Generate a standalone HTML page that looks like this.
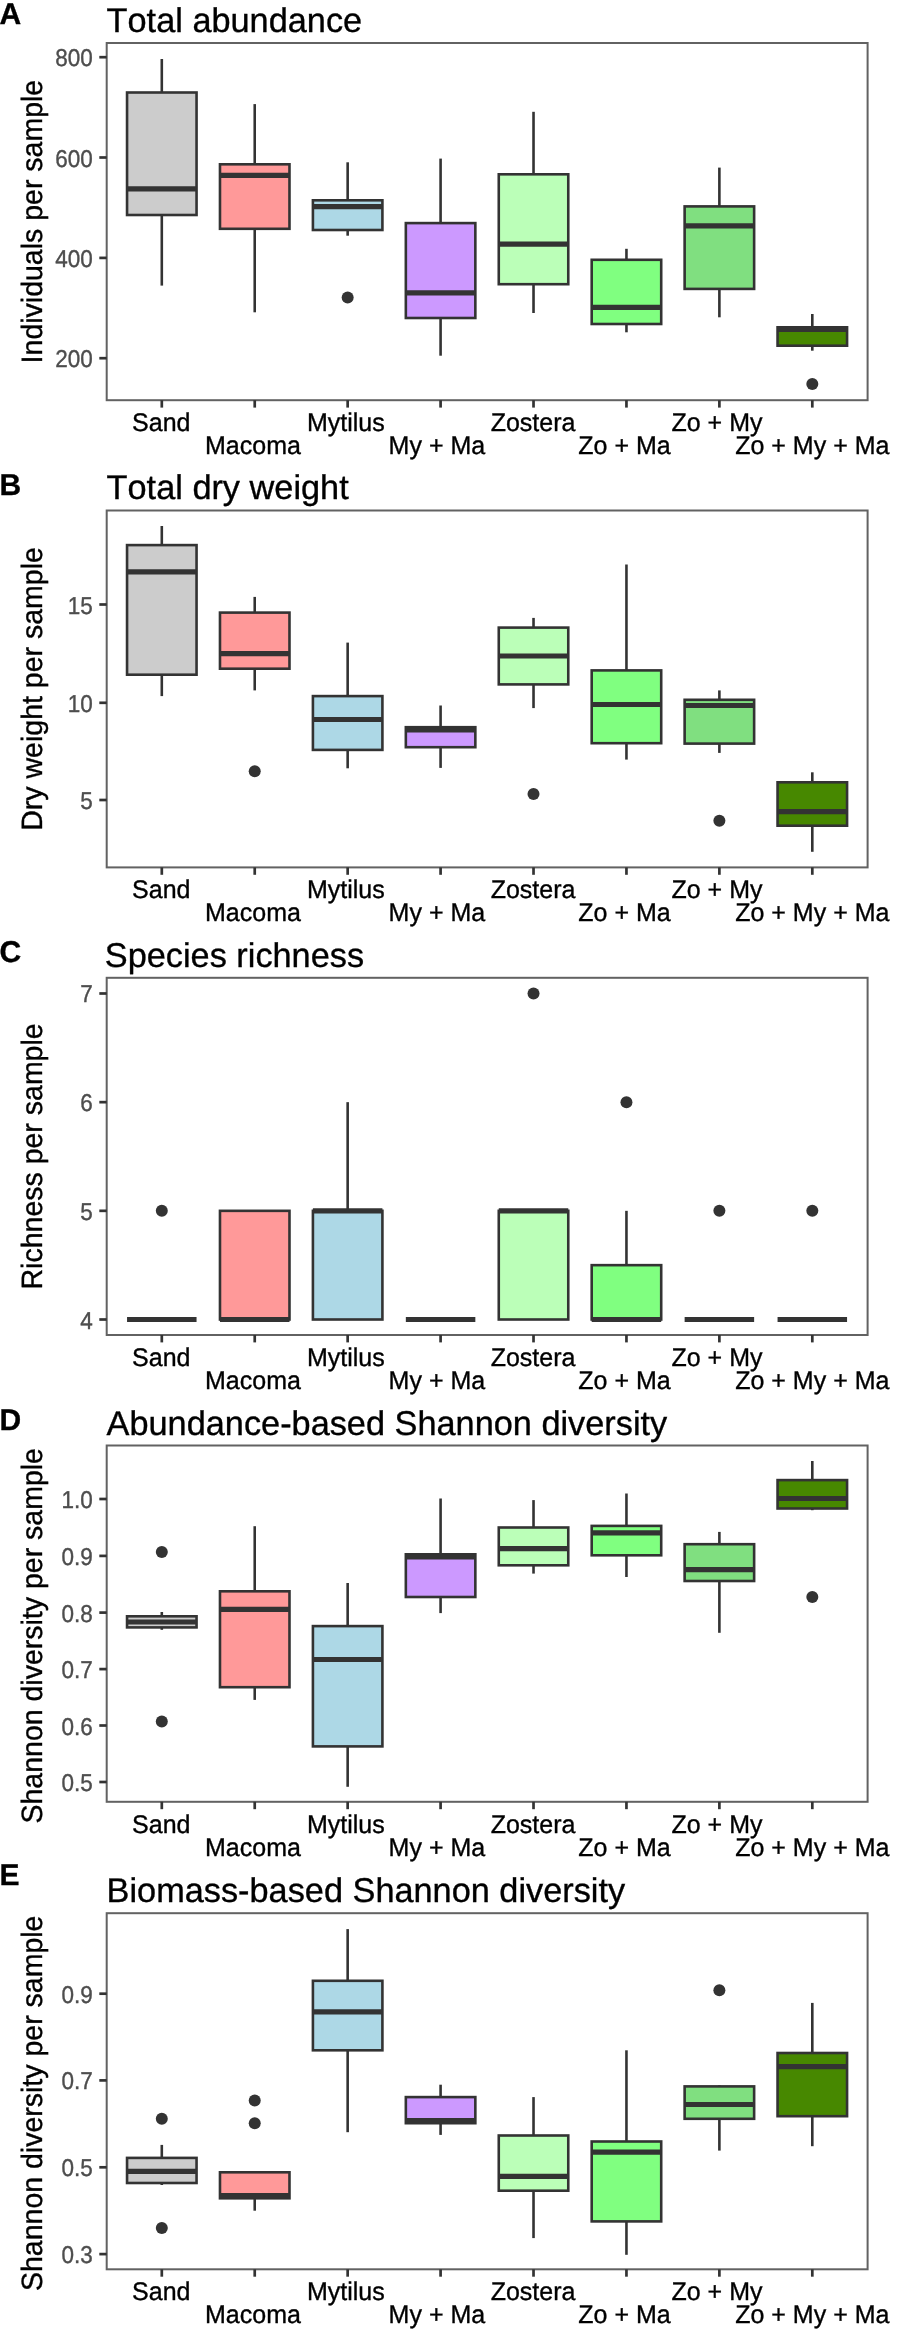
<!DOCTYPE html>
<html><head><meta charset="utf-8"><title>Boxplots</title>
<style>html,body{margin:0;padding:0;background:#fff;}svg{display:block;will-change:transform;}text{font-kerning:none;font-feature-settings:"kern" 0;text-rendering:geometricPrecision;stroke:#000;stroke-width:0.35px;}.tk{stroke:#4D4D4D;}</style>
</head><body>
<svg width="898" height="2337" viewBox="0 0 898 2337" font-family="Liberation Sans, sans-serif">
<rect width="898" height="2337" fill="#FFFFFF"/>
<text transform="translate(-0.5 24) scale(1 1)" font-size="30" font-weight="bold">A</text>
<text transform="translate(106.6 31.9) scale(1 1)" font-size="34.3">Total abundance</text>
<text transform="translate(41.5 221.6) rotate(-90) scale(1 1.03)" text-anchor="middle" font-size="28.5">Individuals per sample</text>
<line x1="161.8" y1="59" x2="161.8" y2="92.5" stroke="#333333" stroke-width="2.6"/>
<line x1="161.8" y1="215" x2="161.8" y2="285.6" stroke="#333333" stroke-width="2.6"/>
<rect x="127.05" y="92.5" width="69.5" height="122.5" fill="#CCCCCC" stroke="#333333" stroke-width="2.6"/>
<line x1="127.05" y1="188.8" x2="196.55" y2="188.8" stroke="#333333" stroke-width="5.2"/>
<line x1="254.73" y1="104.1" x2="254.73" y2="164.3" stroke="#333333" stroke-width="2.6"/>
<line x1="254.73" y1="228.8" x2="254.73" y2="312.3" stroke="#333333" stroke-width="2.6"/>
<rect x="219.98" y="164.3" width="69.5" height="64.5" fill="#FF9999" stroke="#333333" stroke-width="2.6"/>
<line x1="219.98" y1="175.3" x2="289.48" y2="175.3" stroke="#333333" stroke-width="5.2"/>
<line x1="347.66" y1="162.3" x2="347.66" y2="200.3" stroke="#333333" stroke-width="2.6"/>
<line x1="347.66" y1="230" x2="347.66" y2="235.7" stroke="#333333" stroke-width="2.6"/>
<rect x="312.91" y="200.3" width="69.5" height="29.7" fill="#ADD8E6" stroke="#333333" stroke-width="2.6"/>
<line x1="312.91" y1="206.7" x2="382.41" y2="206.7" stroke="#333333" stroke-width="5.2"/>
<circle cx="347.66" cy="297.5" r="6" fill="#333333"/>
<line x1="440.59" y1="158.6" x2="440.59" y2="223.1" stroke="#333333" stroke-width="2.6"/>
<line x1="440.59" y1="318" x2="440.59" y2="355.7" stroke="#333333" stroke-width="2.6"/>
<rect x="405.84" y="223.1" width="69.5" height="94.9" fill="#CC99FF" stroke="#333333" stroke-width="2.6"/>
<line x1="405.84" y1="292.9" x2="475.34" y2="292.9" stroke="#333333" stroke-width="5.2"/>
<line x1="533.52" y1="111.8" x2="533.52" y2="174.3" stroke="#333333" stroke-width="2.6"/>
<line x1="533.52" y1="284.2" x2="533.52" y2="313" stroke="#333333" stroke-width="2.6"/>
<rect x="498.77" y="174.3" width="69.5" height="109.9" fill="#BBFFB8" stroke="#333333" stroke-width="2.6"/>
<line x1="498.77" y1="244.1" x2="568.27" y2="244.1" stroke="#333333" stroke-width="5.2"/>
<line x1="626.45" y1="248.8" x2="626.45" y2="259.8" stroke="#333333" stroke-width="2.6"/>
<line x1="626.45" y1="324" x2="626.45" y2="332.3" stroke="#333333" stroke-width="2.6"/>
<rect x="591.7" y="259.8" width="69.5" height="64.2" fill="#80FF80" stroke="#333333" stroke-width="2.6"/>
<line x1="591.7" y1="307.3" x2="661.2" y2="307.3" stroke="#333333" stroke-width="5.2"/>
<line x1="719.38" y1="167.6" x2="719.38" y2="206.4" stroke="#333333" stroke-width="2.6"/>
<line x1="719.38" y1="288.9" x2="719.38" y2="317.3" stroke="#333333" stroke-width="2.6"/>
<rect x="684.63" y="206.4" width="69.5" height="82.5" fill="#80DF80" stroke="#333333" stroke-width="2.6"/>
<line x1="684.63" y1="225.8" x2="754.13" y2="225.8" stroke="#333333" stroke-width="5.2"/>
<line x1="812.31" y1="314" x2="812.31" y2="327.3" stroke="#333333" stroke-width="2.6"/>
<line x1="812.31" y1="345.7" x2="812.31" y2="350.7" stroke="#333333" stroke-width="2.6"/>
<rect x="777.56" y="327.3" width="69.5" height="18.4" fill="#478800" stroke="#333333" stroke-width="2.6"/>
<line x1="777.56" y1="329.3" x2="847.06" y2="329.3" stroke="#333333" stroke-width="5.2"/>
<circle cx="812.31" cy="384.1" r="6" fill="#333333"/>
<rect x="106.7" y="43" width="760.9" height="357.2" fill="none" stroke="#626262" stroke-width="2"/>
<line x1="99.3" y1="57.2" x2="106.7" y2="57.2" stroke="#333333" stroke-width="2.7"/>
<text transform="translate(92.7 66.2) scale(1 1.08)" font-size="22.5" fill="#4D4D4D" class="tk" text-anchor="end">800</text>
<line x1="99.3" y1="157.5" x2="106.7" y2="157.5" stroke="#333333" stroke-width="2.7"/>
<text transform="translate(92.7 166.5) scale(1 1.08)" font-size="22.5" fill="#4D4D4D" class="tk" text-anchor="end">600</text>
<line x1="99.3" y1="257.9" x2="106.7" y2="257.9" stroke="#333333" stroke-width="2.7"/>
<text transform="translate(92.7 266.9) scale(1 1.08)" font-size="22.5" fill="#4D4D4D" class="tk" text-anchor="end">400</text>
<line x1="99.3" y1="358.2" x2="106.7" y2="358.2" stroke="#333333" stroke-width="2.7"/>
<text transform="translate(92.7 367.2) scale(1 1.08)" font-size="22.5" fill="#4D4D4D" class="tk" text-anchor="end">200</text>
<line x1="161.8" y1="400.2" x2="161.8" y2="407.6" stroke="#333333" stroke-width="2.7"/>
<text transform="translate(161.3 431.1) scale(1 1.02)" font-size="25" text-anchor="middle">Sand</text>
<line x1="254.73" y1="400.2" x2="254.73" y2="407.6" stroke="#333333" stroke-width="2.7"/>
<text transform="translate(252.93 454) scale(1 1.02)" font-size="25" text-anchor="middle">Macoma</text>
<line x1="347.66" y1="400.2" x2="347.66" y2="407.6" stroke="#333333" stroke-width="2.7"/>
<text transform="translate(345.86 431.1) scale(1 1.02)" font-size="25" text-anchor="middle">Mytilus</text>
<line x1="440.59" y1="400.2" x2="440.59" y2="407.6" stroke="#333333" stroke-width="2.7"/>
<text transform="translate(436.89 454) scale(1 1.02)" font-size="25" text-anchor="middle">My + Ma</text>
<line x1="533.52" y1="400.2" x2="533.52" y2="407.6" stroke="#333333" stroke-width="2.7"/>
<text transform="translate(533.02 431.1) scale(1 1.02)" font-size="25" text-anchor="middle">Zostera</text>
<line x1="626.45" y1="400.2" x2="626.45" y2="407.6" stroke="#333333" stroke-width="2.7"/>
<text transform="translate(624.55 454) scale(1 1.02)" font-size="25" text-anchor="middle">Zo + Ma</text>
<line x1="719.38" y1="400.2" x2="719.38" y2="407.6" stroke="#333333" stroke-width="2.7"/>
<text transform="translate(716.98 431.1) scale(1 1.02)" font-size="25" text-anchor="middle">Zo + My</text>
<line x1="812.31" y1="400.2" x2="812.31" y2="407.6" stroke="#333333" stroke-width="2.7"/>
<text transform="translate(812.31 454) scale(1 1.02)" font-size="25" text-anchor="middle">Zo + My + Ma</text>
<text transform="translate(-0.5 494.7) scale(1 1)" font-size="30" font-weight="bold">B</text>
<text transform="translate(106.6 499.2) scale(1 1)" font-size="34.3">Total dry weight</text>
<text transform="translate(41.5 688.95) rotate(-90) scale(1 1.03)" text-anchor="middle" font-size="28.5">Dry weight per sample</text>
<line x1="161.8" y1="526" x2="161.8" y2="545.1" stroke="#333333" stroke-width="2.6"/>
<line x1="161.8" y1="674.7" x2="161.8" y2="696.1" stroke="#333333" stroke-width="2.6"/>
<rect x="127.05" y="545.1" width="69.5" height="129.6" fill="#CCCCCC" stroke="#333333" stroke-width="2.6"/>
<line x1="127.05" y1="571.8" x2="196.55" y2="571.8" stroke="#333333" stroke-width="5.2"/>
<line x1="254.73" y1="596.9" x2="254.73" y2="612.6" stroke="#333333" stroke-width="2.6"/>
<line x1="254.73" y1="668.7" x2="254.73" y2="690.4" stroke="#333333" stroke-width="2.6"/>
<rect x="219.98" y="612.6" width="69.5" height="56.1" fill="#FF9999" stroke="#333333" stroke-width="2.6"/>
<line x1="219.98" y1="653.7" x2="289.48" y2="653.7" stroke="#333333" stroke-width="5.2"/>
<circle cx="254.73" cy="771.3" r="6" fill="#333333"/>
<line x1="347.66" y1="642.6" x2="347.66" y2="696.1" stroke="#333333" stroke-width="2.6"/>
<line x1="347.66" y1="749.9" x2="347.66" y2="768.3" stroke="#333333" stroke-width="2.6"/>
<rect x="312.91" y="696.1" width="69.5" height="53.8" fill="#ADD8E6" stroke="#333333" stroke-width="2.6"/>
<line x1="312.91" y1="719.5" x2="382.41" y2="719.5" stroke="#333333" stroke-width="5.2"/>
<line x1="440.59" y1="705.5" x2="440.59" y2="727.2" stroke="#333333" stroke-width="2.6"/>
<line x1="440.59" y1="747.2" x2="440.59" y2="767.9" stroke="#333333" stroke-width="2.6"/>
<rect x="405.84" y="727.2" width="69.5" height="20" fill="#CC99FF" stroke="#333333" stroke-width="2.6"/>
<line x1="405.84" y1="729.9" x2="475.34" y2="729.9" stroke="#333333" stroke-width="5.2"/>
<line x1="533.52" y1="617.9" x2="533.52" y2="627.6" stroke="#333333" stroke-width="2.6"/>
<line x1="533.52" y1="684.4" x2="533.52" y2="708.1" stroke="#333333" stroke-width="2.6"/>
<rect x="498.77" y="627.6" width="69.5" height="56.8" fill="#BBFFB8" stroke="#333333" stroke-width="2.6"/>
<line x1="498.77" y1="656" x2="568.27" y2="656" stroke="#333333" stroke-width="5.2"/>
<circle cx="533.52" cy="794" r="6" fill="#333333"/>
<line x1="626.45" y1="564.5" x2="626.45" y2="670.4" stroke="#333333" stroke-width="2.6"/>
<line x1="626.45" y1="743.2" x2="626.45" y2="759.6" stroke="#333333" stroke-width="2.6"/>
<rect x="591.7" y="670.4" width="69.5" height="72.8" fill="#80FF80" stroke="#333333" stroke-width="2.6"/>
<line x1="591.7" y1="704.5" x2="661.2" y2="704.5" stroke="#333333" stroke-width="5.2"/>
<line x1="719.38" y1="690.4" x2="719.38" y2="699.8" stroke="#333333" stroke-width="2.6"/>
<line x1="719.38" y1="743.6" x2="719.38" y2="752.9" stroke="#333333" stroke-width="2.6"/>
<rect x="684.63" y="699.8" width="69.5" height="43.8" fill="#80DF80" stroke="#333333" stroke-width="2.6"/>
<line x1="684.63" y1="705.5" x2="754.13" y2="705.5" stroke="#333333" stroke-width="5.2"/>
<circle cx="719.38" cy="820.7" r="6" fill="#333333"/>
<line x1="812.31" y1="772.3" x2="812.31" y2="782.3" stroke="#333333" stroke-width="2.6"/>
<line x1="812.31" y1="825.7" x2="812.31" y2="851.8" stroke="#333333" stroke-width="2.6"/>
<rect x="777.56" y="782.3" width="69.5" height="43.4" fill="#478800" stroke="#333333" stroke-width="2.6"/>
<line x1="777.56" y1="811.7" x2="847.06" y2="811.7" stroke="#333333" stroke-width="5.2"/>
<rect x="106.7" y="510.5" width="760.9" height="356.9" fill="none" stroke="#626262" stroke-width="2"/>
<line x1="99.3" y1="604.5" x2="106.7" y2="604.5" stroke="#333333" stroke-width="2.7"/>
<text transform="translate(92.7 613.5) scale(1 1.08)" font-size="22.5" fill="#4D4D4D" class="tk" text-anchor="end">15</text>
<line x1="99.3" y1="702.8" x2="106.7" y2="702.8" stroke="#333333" stroke-width="2.7"/>
<text transform="translate(92.7 711.8) scale(1 1.08)" font-size="22.5" fill="#4D4D4D" class="tk" text-anchor="end">10</text>
<line x1="99.3" y1="800" x2="106.7" y2="800" stroke="#333333" stroke-width="2.7"/>
<text transform="translate(92.7 809) scale(1 1.08)" font-size="22.5" fill="#4D4D4D" class="tk" text-anchor="end">5</text>
<line x1="161.8" y1="867.4" x2="161.8" y2="874.8" stroke="#333333" stroke-width="2.7"/>
<text transform="translate(161.3 898.4) scale(1 1.02)" font-size="25" text-anchor="middle">Sand</text>
<line x1="254.73" y1="867.4" x2="254.73" y2="874.8" stroke="#333333" stroke-width="2.7"/>
<text transform="translate(252.93 921.3) scale(1 1.02)" font-size="25" text-anchor="middle">Macoma</text>
<line x1="347.66" y1="867.4" x2="347.66" y2="874.8" stroke="#333333" stroke-width="2.7"/>
<text transform="translate(345.86 898.4) scale(1 1.02)" font-size="25" text-anchor="middle">Mytilus</text>
<line x1="440.59" y1="867.4" x2="440.59" y2="874.8" stroke="#333333" stroke-width="2.7"/>
<text transform="translate(436.89 921.3) scale(1 1.02)" font-size="25" text-anchor="middle">My + Ma</text>
<line x1="533.52" y1="867.4" x2="533.52" y2="874.8" stroke="#333333" stroke-width="2.7"/>
<text transform="translate(533.02 898.4) scale(1 1.02)" font-size="25" text-anchor="middle">Zostera</text>
<line x1="626.45" y1="867.4" x2="626.45" y2="874.8" stroke="#333333" stroke-width="2.7"/>
<text transform="translate(624.55 921.3) scale(1 1.02)" font-size="25" text-anchor="middle">Zo + Ma</text>
<line x1="719.38" y1="867.4" x2="719.38" y2="874.8" stroke="#333333" stroke-width="2.7"/>
<text transform="translate(716.98 898.4) scale(1 1.02)" font-size="25" text-anchor="middle">Zo + My</text>
<line x1="812.31" y1="867.4" x2="812.31" y2="874.8" stroke="#333333" stroke-width="2.7"/>
<text transform="translate(812.31 921.3) scale(1 1.02)" font-size="25" text-anchor="middle">Zo + My + Ma</text>
<text transform="translate(-0.5 961.8) scale(1 1)" font-size="30" font-weight="bold">C</text>
<text transform="translate(104.8 966.5) scale(1 1)" font-size="34.3">Species richness</text>
<text transform="translate(41.5 1156.4) rotate(-90) scale(1 1.03)" text-anchor="middle" font-size="28.5">Richness per sample</text>
<rect x="127.05" y="1319.5" width="69.5" height="0" fill="#CCCCCC" stroke="#333333" stroke-width="2.6"/>
<line x1="127.05" y1="1319.5" x2="196.55" y2="1319.5" stroke="#333333" stroke-width="5.2"/>
<circle cx="161.8" cy="1210.83" r="6" fill="#333333"/>
<rect x="219.98" y="1210.83" width="69.5" height="108.67" fill="#FF9999" stroke="#333333" stroke-width="2.6"/>
<line x1="219.98" y1="1319.5" x2="289.48" y2="1319.5" stroke="#333333" stroke-width="5.2"/>
<line x1="347.66" y1="1102.16" x2="347.66" y2="1210.83" stroke="#333333" stroke-width="2.6"/>
<rect x="312.91" y="1210.83" width="69.5" height="108.67" fill="#ADD8E6" stroke="#333333" stroke-width="2.6"/>
<line x1="312.91" y1="1210.83" x2="382.41" y2="1210.83" stroke="#333333" stroke-width="5.2"/>
<rect x="405.84" y="1319.5" width="69.5" height="0" fill="#CC99FF" stroke="#333333" stroke-width="2.6"/>
<line x1="405.84" y1="1319.5" x2="475.34" y2="1319.5" stroke="#333333" stroke-width="5.2"/>
<rect x="498.77" y="1210.83" width="69.5" height="108.67" fill="#BBFFB8" stroke="#333333" stroke-width="2.6"/>
<line x1="498.77" y1="1210.83" x2="568.27" y2="1210.83" stroke="#333333" stroke-width="5.2"/>
<circle cx="533.52" cy="993.49" r="6" fill="#333333"/>
<line x1="626.45" y1="1210.83" x2="626.45" y2="1265.16" stroke="#333333" stroke-width="2.6"/>
<rect x="591.7" y="1265.16" width="69.5" height="54.34" fill="#80FF80" stroke="#333333" stroke-width="2.6"/>
<line x1="591.7" y1="1319.5" x2="661.2" y2="1319.5" stroke="#333333" stroke-width="5.2"/>
<circle cx="626.45" cy="1102.16" r="6" fill="#333333"/>
<rect x="684.63" y="1319.5" width="69.5" height="0" fill="#80DF80" stroke="#333333" stroke-width="2.6"/>
<line x1="684.63" y1="1319.5" x2="754.13" y2="1319.5" stroke="#333333" stroke-width="5.2"/>
<circle cx="719.38" cy="1210.83" r="6" fill="#333333"/>
<rect x="777.56" y="1319.5" width="69.5" height="0" fill="#478800" stroke="#333333" stroke-width="2.6"/>
<line x1="777.56" y1="1319.5" x2="847.06" y2="1319.5" stroke="#333333" stroke-width="5.2"/>
<circle cx="812.31" cy="1210.83" r="6" fill="#333333"/>
<rect x="106.7" y="977.8" width="760.9" height="357.2" fill="none" stroke="#626262" stroke-width="2"/>
<line x1="99.3" y1="993.49" x2="106.7" y2="993.49" stroke="#333333" stroke-width="2.7"/>
<text transform="translate(92.7 1002.49) scale(1 1.08)" font-size="22.5" fill="#4D4D4D" class="tk" text-anchor="end">7</text>
<line x1="99.3" y1="1102.16" x2="106.7" y2="1102.16" stroke="#333333" stroke-width="2.7"/>
<text transform="translate(92.7 1111.16) scale(1 1.08)" font-size="22.5" fill="#4D4D4D" class="tk" text-anchor="end">6</text>
<line x1="99.3" y1="1210.83" x2="106.7" y2="1210.83" stroke="#333333" stroke-width="2.7"/>
<text transform="translate(92.7 1219.83) scale(1 1.08)" font-size="22.5" fill="#4D4D4D" class="tk" text-anchor="end">5</text>
<line x1="99.3" y1="1319.5" x2="106.7" y2="1319.5" stroke="#333333" stroke-width="2.7"/>
<text transform="translate(92.7 1328.5) scale(1 1.08)" font-size="22.5" fill="#4D4D4D" class="tk" text-anchor="end">4</text>
<line x1="161.8" y1="1335" x2="161.8" y2="1342.4" stroke="#333333" stroke-width="2.7"/>
<text transform="translate(161.3 1365.7) scale(1 1.02)" font-size="25" text-anchor="middle">Sand</text>
<line x1="254.73" y1="1335" x2="254.73" y2="1342.4" stroke="#333333" stroke-width="2.7"/>
<text transform="translate(252.93 1388.6) scale(1 1.02)" font-size="25" text-anchor="middle">Macoma</text>
<line x1="347.66" y1="1335" x2="347.66" y2="1342.4" stroke="#333333" stroke-width="2.7"/>
<text transform="translate(345.86 1365.7) scale(1 1.02)" font-size="25" text-anchor="middle">Mytilus</text>
<line x1="440.59" y1="1335" x2="440.59" y2="1342.4" stroke="#333333" stroke-width="2.7"/>
<text transform="translate(436.89 1388.6) scale(1 1.02)" font-size="25" text-anchor="middle">My + Ma</text>
<line x1="533.52" y1="1335" x2="533.52" y2="1342.4" stroke="#333333" stroke-width="2.7"/>
<text transform="translate(533.02 1365.7) scale(1 1.02)" font-size="25" text-anchor="middle">Zostera</text>
<line x1="626.45" y1="1335" x2="626.45" y2="1342.4" stroke="#333333" stroke-width="2.7"/>
<text transform="translate(624.55 1388.6) scale(1 1.02)" font-size="25" text-anchor="middle">Zo + Ma</text>
<line x1="719.38" y1="1335" x2="719.38" y2="1342.4" stroke="#333333" stroke-width="2.7"/>
<text transform="translate(716.98 1365.7) scale(1 1.02)" font-size="25" text-anchor="middle">Zo + My</text>
<line x1="812.31" y1="1335" x2="812.31" y2="1342.4" stroke="#333333" stroke-width="2.7"/>
<text transform="translate(812.31 1388.6) scale(1 1.02)" font-size="25" text-anchor="middle">Zo + My + Ma</text>
<text transform="translate(-0.5 1429.5) scale(1 1)" font-size="30" font-weight="bold">D</text>
<text transform="translate(106.6 1434.6) scale(1 1)" font-size="34.3">Abundance-based Shannon diversity</text>
<text transform="translate(41.5 1635.8) rotate(-90) scale(1 1.03)" text-anchor="middle" font-size="28.5">Shannon diversity per sample</text>
<line x1="161.8" y1="1612" x2="161.8" y2="1616.3" stroke="#333333" stroke-width="2.6"/>
<line x1="161.8" y1="1627.4" x2="161.8" y2="1629.8" stroke="#333333" stroke-width="2.6"/>
<rect x="127.05" y="1616.3" width="69.5" height="11.1" fill="#CCCCCC" stroke="#333333" stroke-width="2.6"/>
<line x1="127.05" y1="1622" x2="196.55" y2="1622" stroke="#333333" stroke-width="5.2"/>
<circle cx="161.8" cy="1551.9" r="6" fill="#333333"/>
<circle cx="161.8" cy="1721.6" r="6" fill="#333333"/>
<line x1="254.73" y1="1526.2" x2="254.73" y2="1591.3" stroke="#333333" stroke-width="2.6"/>
<line x1="254.73" y1="1687.2" x2="254.73" y2="1699.9" stroke="#333333" stroke-width="2.6"/>
<rect x="219.98" y="1591.3" width="69.5" height="95.9" fill="#FF9999" stroke="#333333" stroke-width="2.6"/>
<line x1="219.98" y1="1609.4" x2="289.48" y2="1609.4" stroke="#333333" stroke-width="5.2"/>
<line x1="347.66" y1="1583" x2="347.66" y2="1626.1" stroke="#333333" stroke-width="2.6"/>
<line x1="347.66" y1="1746.4" x2="347.66" y2="1786.8" stroke="#333333" stroke-width="2.6"/>
<rect x="312.91" y="1626.1" width="69.5" height="120.3" fill="#ADD8E6" stroke="#333333" stroke-width="2.6"/>
<line x1="312.91" y1="1659.5" x2="382.41" y2="1659.5" stroke="#333333" stroke-width="5.2"/>
<line x1="440.59" y1="1498.5" x2="440.59" y2="1554.3" stroke="#333333" stroke-width="2.6"/>
<line x1="440.59" y1="1597" x2="440.59" y2="1613.1" stroke="#333333" stroke-width="2.6"/>
<rect x="405.84" y="1554.3" width="69.5" height="42.7" fill="#CC99FF" stroke="#333333" stroke-width="2.6"/>
<line x1="405.84" y1="1556.9" x2="475.34" y2="1556.9" stroke="#333333" stroke-width="5.2"/>
<line x1="533.52" y1="1500.1" x2="533.52" y2="1527.5" stroke="#333333" stroke-width="2.6"/>
<line x1="533.52" y1="1565.3" x2="533.52" y2="1573.6" stroke="#333333" stroke-width="2.6"/>
<rect x="498.77" y="1527.5" width="69.5" height="37.8" fill="#BBFFB8" stroke="#333333" stroke-width="2.6"/>
<line x1="498.77" y1="1548.6" x2="568.27" y2="1548.6" stroke="#333333" stroke-width="5.2"/>
<line x1="626.45" y1="1493.5" x2="626.45" y2="1525.9" stroke="#333333" stroke-width="2.6"/>
<line x1="626.45" y1="1555.3" x2="626.45" y2="1577" stroke="#333333" stroke-width="2.6"/>
<rect x="591.7" y="1525.9" width="69.5" height="29.4" fill="#80FF80" stroke="#333333" stroke-width="2.6"/>
<line x1="591.7" y1="1532.9" x2="661.2" y2="1532.9" stroke="#333333" stroke-width="5.2"/>
<line x1="719.38" y1="1531.9" x2="719.38" y2="1544.2" stroke="#333333" stroke-width="2.6"/>
<line x1="719.38" y1="1581" x2="719.38" y2="1632.8" stroke="#333333" stroke-width="2.6"/>
<rect x="684.63" y="1544.2" width="69.5" height="36.8" fill="#80DF80" stroke="#333333" stroke-width="2.6"/>
<line x1="684.63" y1="1569.6" x2="754.13" y2="1569.6" stroke="#333333" stroke-width="5.2"/>
<line x1="812.31" y1="1461" x2="812.31" y2="1480.1" stroke="#333333" stroke-width="2.6"/>
<line x1="812.31" y1="1508.5" x2="812.31" y2="1510.2" stroke="#333333" stroke-width="2.6"/>
<rect x="777.56" y="1480.1" width="69.5" height="28.4" fill="#478800" stroke="#333333" stroke-width="2.6"/>
<line x1="777.56" y1="1498.5" x2="847.06" y2="1498.5" stroke="#333333" stroke-width="5.2"/>
<circle cx="812.31" cy="1597" r="6" fill="#333333"/>
<rect x="106.7" y="1445.5" width="760.9" height="356.3" fill="none" stroke="#626262" stroke-width="2"/>
<line x1="99.3" y1="1499" x2="106.7" y2="1499" stroke="#333333" stroke-width="2.7"/>
<text transform="translate(92.7 1508) scale(1 1.08)" font-size="22.5" fill="#4D4D4D" class="tk" text-anchor="end">1.0</text>
<line x1="99.3" y1="1555.9" x2="106.7" y2="1555.9" stroke="#333333" stroke-width="2.7"/>
<text transform="translate(92.7 1564.9) scale(1 1.08)" font-size="22.5" fill="#4D4D4D" class="tk" text-anchor="end">0.9</text>
<line x1="99.3" y1="1612.6" x2="106.7" y2="1612.6" stroke="#333333" stroke-width="2.7"/>
<text transform="translate(92.7 1621.6) scale(1 1.08)" font-size="22.5" fill="#4D4D4D" class="tk" text-anchor="end">0.8</text>
<line x1="99.3" y1="1669.1" x2="106.7" y2="1669.1" stroke="#333333" stroke-width="2.7"/>
<text transform="translate(92.7 1678.1) scale(1 1.08)" font-size="22.5" fill="#4D4D4D" class="tk" text-anchor="end">0.7</text>
<line x1="99.3" y1="1725.5" x2="106.7" y2="1725.5" stroke="#333333" stroke-width="2.7"/>
<text transform="translate(92.7 1734.5) scale(1 1.08)" font-size="22.5" fill="#4D4D4D" class="tk" text-anchor="end">0.6</text>
<line x1="99.3" y1="1782" x2="106.7" y2="1782" stroke="#333333" stroke-width="2.7"/>
<text transform="translate(92.7 1791) scale(1 1.08)" font-size="22.5" fill="#4D4D4D" class="tk" text-anchor="end">0.5</text>
<line x1="161.8" y1="1801.8" x2="161.8" y2="1809.2" stroke="#333333" stroke-width="2.7"/>
<text transform="translate(161.3 1833) scale(1 1.02)" font-size="25" text-anchor="middle">Sand</text>
<line x1="254.73" y1="1801.8" x2="254.73" y2="1809.2" stroke="#333333" stroke-width="2.7"/>
<text transform="translate(252.93 1855.9) scale(1 1.02)" font-size="25" text-anchor="middle">Macoma</text>
<line x1="347.66" y1="1801.8" x2="347.66" y2="1809.2" stroke="#333333" stroke-width="2.7"/>
<text transform="translate(345.86 1833) scale(1 1.02)" font-size="25" text-anchor="middle">Mytilus</text>
<line x1="440.59" y1="1801.8" x2="440.59" y2="1809.2" stroke="#333333" stroke-width="2.7"/>
<text transform="translate(436.89 1855.9) scale(1 1.02)" font-size="25" text-anchor="middle">My + Ma</text>
<line x1="533.52" y1="1801.8" x2="533.52" y2="1809.2" stroke="#333333" stroke-width="2.7"/>
<text transform="translate(533.02 1833) scale(1 1.02)" font-size="25" text-anchor="middle">Zostera</text>
<line x1="626.45" y1="1801.8" x2="626.45" y2="1809.2" stroke="#333333" stroke-width="2.7"/>
<text transform="translate(624.55 1855.9) scale(1 1.02)" font-size="25" text-anchor="middle">Zo + Ma</text>
<line x1="719.38" y1="1801.8" x2="719.38" y2="1809.2" stroke="#333333" stroke-width="2.7"/>
<text transform="translate(716.98 1833) scale(1 1.02)" font-size="25" text-anchor="middle">Zo + My</text>
<line x1="812.31" y1="1801.8" x2="812.31" y2="1809.2" stroke="#333333" stroke-width="2.7"/>
<text transform="translate(812.31 1855.9) scale(1 1.02)" font-size="25" text-anchor="middle">Zo + My + Ma</text>
<text transform="translate(-0.5 1885) scale(1 1)" font-size="30" font-weight="bold">E</text>
<text transform="translate(106.6 1902) scale(1 1)" font-size="34.3">Biomass-based Shannon diversity</text>
<text transform="translate(41.5 2103.3) rotate(-90) scale(1 1.03)" text-anchor="middle" font-size="28.5">Shannon diversity per sample</text>
<line x1="161.8" y1="2144.9" x2="161.8" y2="2157.9" stroke="#333333" stroke-width="2.6"/>
<line x1="161.8" y1="2183" x2="161.8" y2="2185" stroke="#333333" stroke-width="2.6"/>
<rect x="127.05" y="2157.9" width="69.5" height="25.1" fill="#CCCCCC" stroke="#333333" stroke-width="2.6"/>
<line x1="127.05" y1="2171.3" x2="196.55" y2="2171.3" stroke="#333333" stroke-width="5.2"/>
<circle cx="161.8" cy="2118.8" r="6" fill="#333333"/>
<circle cx="161.8" cy="2228.1" r="6" fill="#333333"/>
<line x1="254.73" y1="2198.3" x2="254.73" y2="2210.7" stroke="#333333" stroke-width="2.6"/>
<rect x="219.98" y="2172.3" width="69.5" height="26" fill="#FF9999" stroke="#333333" stroke-width="2.6"/>
<line x1="219.98" y1="2195.7" x2="289.48" y2="2195.7" stroke="#333333" stroke-width="5.2"/>
<circle cx="254.73" cy="2100.4" r="6" fill="#333333"/>
<circle cx="254.73" cy="2123.2" r="6" fill="#333333"/>
<line x1="347.66" y1="1929.1" x2="347.66" y2="1980.8" stroke="#333333" stroke-width="2.6"/>
<line x1="347.66" y1="2050.3" x2="347.66" y2="2132.2" stroke="#333333" stroke-width="2.6"/>
<rect x="312.91" y="1980.8" width="69.5" height="69.5" fill="#ADD8E6" stroke="#333333" stroke-width="2.6"/>
<line x1="312.91" y1="2011.9" x2="382.41" y2="2011.9" stroke="#333333" stroke-width="5.2"/>
<line x1="440.59" y1="2084.7" x2="440.59" y2="2097.1" stroke="#333333" stroke-width="2.6"/>
<line x1="440.59" y1="2123.2" x2="440.59" y2="2134.9" stroke="#333333" stroke-width="2.6"/>
<rect x="405.84" y="2097.1" width="69.5" height="26.1" fill="#CC99FF" stroke="#333333" stroke-width="2.6"/>
<line x1="405.84" y1="2120.5" x2="475.34" y2="2120.5" stroke="#333333" stroke-width="5.2"/>
<line x1="533.52" y1="2097.1" x2="533.52" y2="2135.5" stroke="#333333" stroke-width="2.6"/>
<line x1="533.52" y1="2190.7" x2="533.52" y2="2238.1" stroke="#333333" stroke-width="2.6"/>
<rect x="498.77" y="2135.5" width="69.5" height="55.2" fill="#BBFFB8" stroke="#333333" stroke-width="2.6"/>
<line x1="498.77" y1="2176.3" x2="568.27" y2="2176.3" stroke="#333333" stroke-width="5.2"/>
<line x1="626.45" y1="2050.3" x2="626.45" y2="2141.5" stroke="#333333" stroke-width="2.6"/>
<line x1="626.45" y1="2221.4" x2="626.45" y2="2254.8" stroke="#333333" stroke-width="2.6"/>
<rect x="591.7" y="2141.5" width="69.5" height="79.9" fill="#80FF80" stroke="#333333" stroke-width="2.6"/>
<line x1="591.7" y1="2152.2" x2="661.2" y2="2152.2" stroke="#333333" stroke-width="5.2"/>
<line x1="719.38" y1="2085.4" x2="719.38" y2="2086.4" stroke="#333333" stroke-width="2.6"/>
<line x1="719.38" y1="2118.8" x2="719.38" y2="2150.6" stroke="#333333" stroke-width="2.6"/>
<rect x="684.63" y="2086.4" width="69.5" height="32.4" fill="#80DF80" stroke="#333333" stroke-width="2.6"/>
<line x1="684.63" y1="2104.5" x2="754.13" y2="2104.5" stroke="#333333" stroke-width="5.2"/>
<circle cx="719.38" cy="1990.2" r="6" fill="#333333"/>
<line x1="812.31" y1="2002.9" x2="812.31" y2="2053" stroke="#333333" stroke-width="2.6"/>
<line x1="812.31" y1="2116.2" x2="812.31" y2="2146.2" stroke="#333333" stroke-width="2.6"/>
<rect x="777.56" y="2053" width="69.5" height="63.2" fill="#478800" stroke="#333333" stroke-width="2.6"/>
<line x1="777.56" y1="2066.7" x2="847.06" y2="2066.7" stroke="#333333" stroke-width="5.2"/>
<rect x="106.7" y="1913.2" width="760.9" height="356.1" fill="none" stroke="#626262" stroke-width="2"/>
<line x1="99.3" y1="1993.7" x2="106.7" y2="1993.7" stroke="#333333" stroke-width="2.7"/>
<text transform="translate(92.7 2002.7) scale(1 1.08)" font-size="22.5" fill="#4D4D4D" class="tk" text-anchor="end">0.9</text>
<line x1="99.3" y1="2080.4" x2="106.7" y2="2080.4" stroke="#333333" stroke-width="2.7"/>
<text transform="translate(92.7 2089.4) scale(1 1.08)" font-size="22.5" fill="#4D4D4D" class="tk" text-anchor="end">0.7</text>
<line x1="99.3" y1="2167.3" x2="106.7" y2="2167.3" stroke="#333333" stroke-width="2.7"/>
<text transform="translate(92.7 2176.3) scale(1 1.08)" font-size="22.5" fill="#4D4D4D" class="tk" text-anchor="end">0.5</text>
<line x1="99.3" y1="2254.1" x2="106.7" y2="2254.1" stroke="#333333" stroke-width="2.7"/>
<text transform="translate(92.7 2263.1) scale(1 1.08)" font-size="22.5" fill="#4D4D4D" class="tk" text-anchor="end">0.3</text>
<line x1="161.8" y1="2269.3" x2="161.8" y2="2276.7" stroke="#333333" stroke-width="2.7"/>
<text transform="translate(161.3 2300.3) scale(1 1.02)" font-size="25" text-anchor="middle">Sand</text>
<line x1="254.73" y1="2269.3" x2="254.73" y2="2276.7" stroke="#333333" stroke-width="2.7"/>
<text transform="translate(252.93 2323.2) scale(1 1.02)" font-size="25" text-anchor="middle">Macoma</text>
<line x1="347.66" y1="2269.3" x2="347.66" y2="2276.7" stroke="#333333" stroke-width="2.7"/>
<text transform="translate(345.86 2300.3) scale(1 1.02)" font-size="25" text-anchor="middle">Mytilus</text>
<line x1="440.59" y1="2269.3" x2="440.59" y2="2276.7" stroke="#333333" stroke-width="2.7"/>
<text transform="translate(436.89 2323.2) scale(1 1.02)" font-size="25" text-anchor="middle">My + Ma</text>
<line x1="533.52" y1="2269.3" x2="533.52" y2="2276.7" stroke="#333333" stroke-width="2.7"/>
<text transform="translate(533.02 2300.3) scale(1 1.02)" font-size="25" text-anchor="middle">Zostera</text>
<line x1="626.45" y1="2269.3" x2="626.45" y2="2276.7" stroke="#333333" stroke-width="2.7"/>
<text transform="translate(624.55 2323.2) scale(1 1.02)" font-size="25" text-anchor="middle">Zo + Ma</text>
<line x1="719.38" y1="2269.3" x2="719.38" y2="2276.7" stroke="#333333" stroke-width="2.7"/>
<text transform="translate(716.98 2300.3) scale(1 1.02)" font-size="25" text-anchor="middle">Zo + My</text>
<line x1="812.31" y1="2269.3" x2="812.31" y2="2276.7" stroke="#333333" stroke-width="2.7"/>
<text transform="translate(812.31 2323.2) scale(1 1.02)" font-size="25" text-anchor="middle">Zo + My + Ma</text>
</svg>
</body></html>
